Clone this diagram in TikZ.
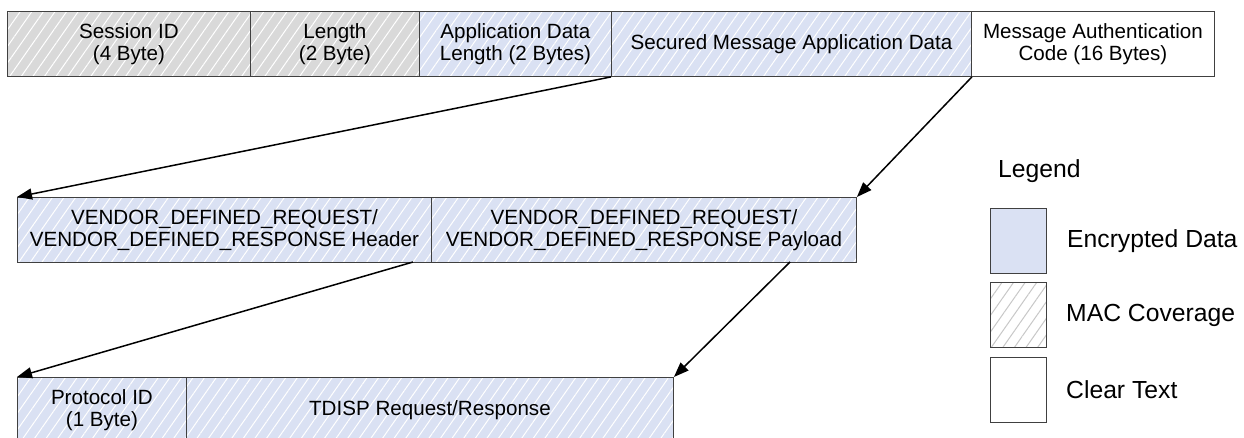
\documentclass[tikz,border=0pt]{standalone}
\usepackage{fontspec}
\setmainfont{Liberation Sans}
\usetikzlibrary{arrows.meta,patterns.meta}
\definecolor{encblue}{RGB}{218,225,243}
\definecolor{macgray}{RGB}{217,217,217}
\definecolor{hatchgray}{RGB}{200,200,200}
\begin{document}
\begin{tikzpicture}[
    x=1pt, y=-1pt,
    field/.style={draw=black!75, line width=0.9pt, anchor=north west, inner sep=0pt,
        minimum height=65pt, align=center, font=\fontsize{20.6}{22.5}\selectfont},
    hatch/.style={postaction={pattern={Lines[angle=55,distance=9.5pt,line width=1pt]}, pattern color=#1},
        postaction={draw=black!75, line width=0.9pt}},
    macfield/.style={field, fill=macgray, hatch=white},
    encfield/.style={field, fill=encblue, hatch=white},
    clearfield/.style={field, fill=white},
    legbox/.style={draw=black!75, line width=0.9pt, anchor=north west, inner sep=0pt,
        minimum width=56pt, minimum height=65pt},
    legtext/.style={anchor=west, inner sep=0pt, font=\fontsize{24.7}{28}\selectfont},
    arr/.style={line width=1.5pt, -{Triangle[length=15pt,width=11pt]}}
]
    \useasboundingbox (0,0) rectangle (1244,438);
    \clip (0,0) rectangle (1244,438);
    % Top row (secured message)
    \node[macfield, minimum width=243pt] (sid) at (7,11) {Session ID\\(4 Byte)};
    \node[macfield, minimum width=169pt] (len) at (250,11) {Length\\(2 Byte)};
    \node[encfield, minimum width=192pt] (adl) at (419,11) {Application Data\\Length (2 Bytes)};
    \node[encfield, minimum width=360pt] (smad) at (611,11) {Secured Message Application Data};
    \node[clearfield, minimum width=243pt] (mac) at (971,11) {Message Authentication\\Code (16 Bytes)};
    % Middle row (vendor defined message)
    \node[encfield, minimum width=414pt] (vhdr) at (17,197) {VENDOR\_DEFINED\_REQUEST/\\VENDOR\_DEFINED\_RESPONSE Header};
    \node[encfield, minimum width=425pt] (vpay) at (431,197) {VENDOR\_DEFINED\_REQUEST/\\VENDOR\_DEFINED\_RESPONSE Payload};
    % Bottom row (TDISP message)
    \node[encfield, minimum width=169pt] (pid) at (17,377) {Protocol ID\\(1 Byte)};
    \node[encfield, minimum width=487pt] (tdisp) at (186,377) {TDISP Request/Response};
    % Arrows
    \coordinate (hdrout) at (413,262);
    \coordinate (payout) at (790,262);
    \draw[arr] (smad.south west) -- (vhdr.north west);
    \draw[arr] (smad.south east) -- (vpay.north east);
    \draw[arr] (hdrout) -- (pid.north west);
    \draw[arr] (payout) -- (tdisp.north east);
    % Legend
    \node[legtext] (legend) at (998,171) {Legend};
    \node[legbox, fill=encblue] (lenc) at (990,208) {};
    \node[legbox, fill=white, hatch=hatchgray] (lmac) at (990,282) {};
    \node[legbox, fill=white] (lclr) at (990,357) {};
    \node[legtext] (tenc) at (1067,241) {Encrypted Data};
    \node[legtext] (tmac) at (1066,315) {MAC Coverage};
    \node[legtext] (tclr) at (1066,390) {Clear Text};
\end{tikzpicture}
\end{document}
